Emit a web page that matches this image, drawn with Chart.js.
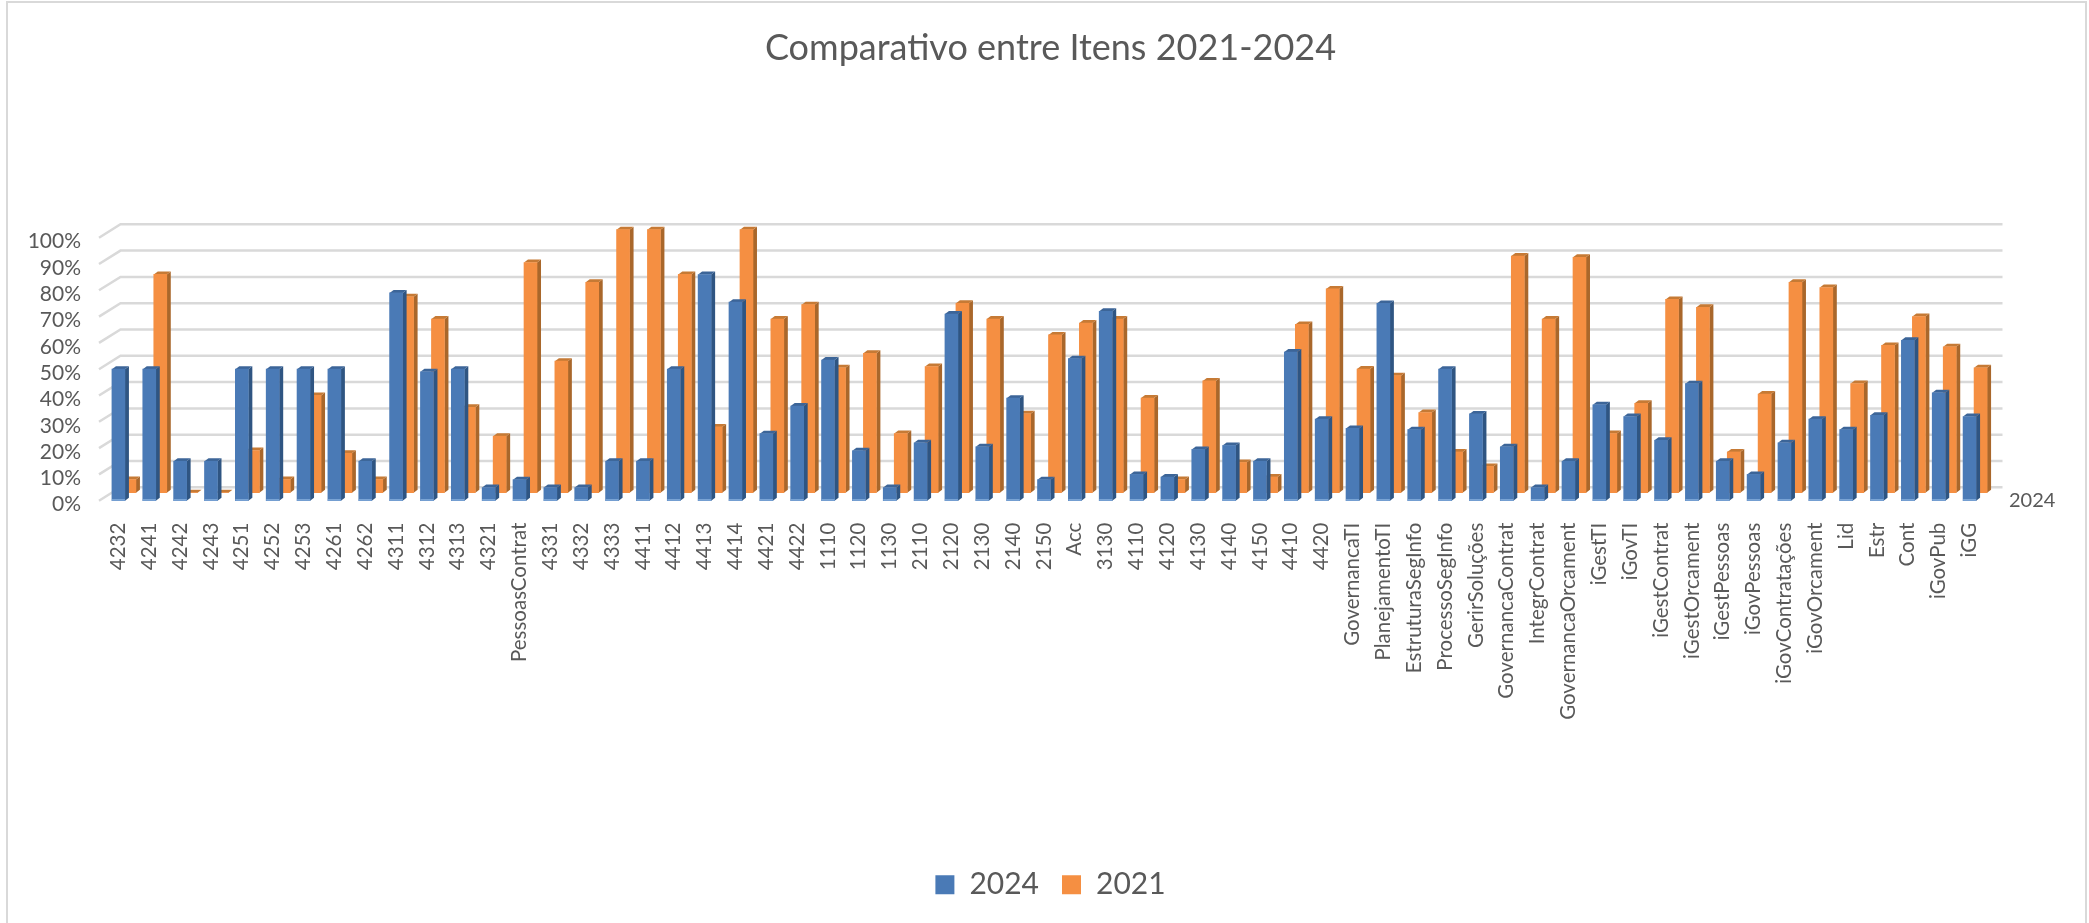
<!DOCTYPE html>
<html>
<head>
<meta charset="utf-8">
<script src="https://cdn.jsdelivr.net/npm/chart.js@4"></script>
<style>
html,body{margin:0;padding:0;background:#fff;overflow:hidden}
#frame{position:absolute;left:6px;top:1px;width:2081px;height:922px;box-sizing:border-box;border:solid #d9d9d9;border-width:2.5px 2.5px 0 2.5px;pointer-events:none}
canvas{position:absolute;left:0;top:0}
</style>
</head>
<body>
<canvas id="c" width="2089" height="923" style="width:2089px;height:923px"></canvas>
<div id="frame"></div>
<script>
const categories = ['4232','4241','4242','4243','4251','4252','4253','4261','4262','4311','4312','4313','4321','PessoasContrat','4331','4332','4333','4411','4412','4413','4414','4421','4422','1110','1120','1130','2110','2120','2130','2140','2150','Acc','3130','4110','4120','4130','4140','4150','4410','4420','GovernancaTI','PlanejamentoTI','EstruturaSegInfo','ProcessoSegInfo','GerirSoluções','GovernancaContrat','IntegrContrat','GovernancaOrcament','iGestTI','iGovTI','iGestContrat','iGestOrcament','iGestPessoas','iGovPessoas','iGovContratações','iGovOrcament','Lid','Estr','Cont','iGovPub','iGG'];
const values2024 = [50,50,15,15,50,50,50,50,15,79,49,50,5,8,5,5,15,15,50,86,75.5,25.5,36,53.5,19,5,22,71,20.5,39,8,54,72,10,9,19.5,21,15,56.5,31,27.5,75,27,50,33,20.5,5,15,36.5,32,23,44.5,15,10,22,31,27,32.5,61,41,32];
const values2021 = [5,83,0,0,16,5,37,15,5,74.5,66,32.5,21.5,87.5,50,80,100,100,83,25,100,66,71.5,47.5,53,22.5,48,72,66,30,60,64.5,66,36,5,42.5,11.5,6,64,77.5,47,44.5,30.5,15.5,10,90,66,89.5,22.5,34,73.5,70.5,15.5,37.5,80,78,41.5,56,67,55.5,47.5];
const seriesNames = ['2024','2021'];
const yTicksMax = 100, yTicksStep = 10;

const FONT = 'Lato, Carlito, sans-serif';
const TXT = '#595959';
const GRID = '#d9d9d9';

const floorDx = 21.5, floorDy = 13.4, gridInset = 4;
const backDx = 11, backDy = 8;
const sideW = 4, topH = 3;
const faces = [
  {front:'#4a7ab6', side:'#2f5582', top:'#3c6598', edge:'#86aedd'},
  {front:'#f58f42', side:'#a9672b', top:'#c67a35', edge:'#f58f42'}
];

const depth3d = {
  id:'depth3d',
  afterDatasetsUpdate(chart){
    const m = chart.getDatasetMeta(1);
    m.data.forEach(el=>{ el.x += backDx; el.y -= backDy; el.base -= backDy; });
  },
  beforeDatasetsDraw(chart){
    const {ctx, scales:{y}, chartArea:a} = chart;
    const left = a.left - gridInset, right = a.right - gridInset;
    ctx.save();
    ctx.strokeStyle = GRID; ctx.lineWidth = 2.5;
    y.ticks.forEach(t=>{
      const py = y.getPixelForValue(t.value);
      ctx.beginPath();
      ctx.moveTo(left, py);
      ctx.lineTo(left + floorDx, py - floorDy);
      ctx.lineTo(right + floorDx, py - floorDy);
      ctx.stroke();
    });
    ctx.restore();
  },
  beforeDatasetDraw(chart, args){
    const {ctx} = chart, f = faces[args.index];
    ctx.save();
    args.meta.data.forEach(el=>{
      const w = el.width, xl = el.x - w/2, xr = el.x + w/2, yt = el.y, yb = el.base;
      ctx.fillStyle = f.side;
      ctx.beginPath();
      ctx.moveTo(xr, yt); ctx.lineTo(xr+sideW, yt-topH); ctx.lineTo(xr+sideW, yb-topH); ctx.lineTo(xr, yb);
      ctx.closePath(); ctx.fill();
      ctx.fillStyle = f.top;
      ctx.beginPath();
      ctx.moveTo(xl, yt); ctx.lineTo(xl+sideW, yt-topH); ctx.lineTo(xr+sideW, yt-topH); ctx.lineTo(xr, yt);
      ctx.closePath(); ctx.fill();
    });
    ctx.restore();
  },
  afterDatasetDraw(chart, args){
    if(args.index !== 0) return;
    const {ctx} = chart, f = faces[0];
    ctx.save();
    ctx.fillStyle = f.edge;
    args.meta.data.forEach(el=>{ ctx.fillRect(el.x - el.width/2, el.base - 1.5, el.width, 1.5); });
    ctx.restore();
  },
  afterDraw(chart){
    const {ctx, scales:{y}, chartArea:a} = chart;
    ctx.save();
    ctx.font = '20px ' + FONT;
    ctx.fillStyle = TXT;
    ctx.textAlign = 'left'; ctx.textBaseline = 'middle';
    ctx.fillText(seriesNames[0], a.right + 24, y.getPixelForValue(0));
    ctx.restore();
  }
};

const chart = new Chart(document.getElementById('c'), {
  type:'bar',
  plugins:[depth3d],
  data:{
    labels:categories,
    datasets:[
      {label:seriesNames[0], data:values2024, backgroundColor:faces[0].front, borderWidth:0, barThickness:13, clip:false},
      {label:seriesNames[1], data:values2021, backgroundColor:faces[1].front, borderWidth:0, barThickness:13, clip:false}
    ]
  },
  options:{
    responsive:false,
    animation:false,
    devicePixelRatio:1,
    grouped:false,
    layout:{padding:{left:12,right:0,top:0,bottom:13.3}},
    scales:{
      x:{
        grid:{display:false},
        border:{display:false},
        ticks:{font:{family:FONT,size:20.5},color:TXT,minRotation:90,maxRotation:90,autoSkip:false,padding:14},
        afterFit(s){ s.height = 346; }
      },
      y:{
        min:0,max:yTicksMax,
        grid:{display:false},
        border:{display:false},
        ticks:{font:{family:FONT,size:21},color:TXT,stepSize:yTicksStep,autoSkip:false,padding:14,labelOffset:4,callback:v=>v+'%'},
        afterFit(s){ s.width = 91; }
      },
      depthRoom:{
        position:'right',
        grid:{display:false},
        border:{display:false},
        ticks:{display:false},
        afterFit(s){ s.width = 104; }
      }
    },
    plugins:{
      title:{display:true,text:'Comparativo entre Itens 2021-2024',color:TXT,font:{family:FONT,size:36,weight:'normal'},padding:{top:27,bottom:167.5}},
      legend:{display:true,position:'bottom',labels:{color:TXT,font:{family:FONT,size:30},boxWidth:19,boxHeight:19,padding:23}},
      tooltip:{enabled:false}
    }
  }
});
</script>
</body>
</html>
